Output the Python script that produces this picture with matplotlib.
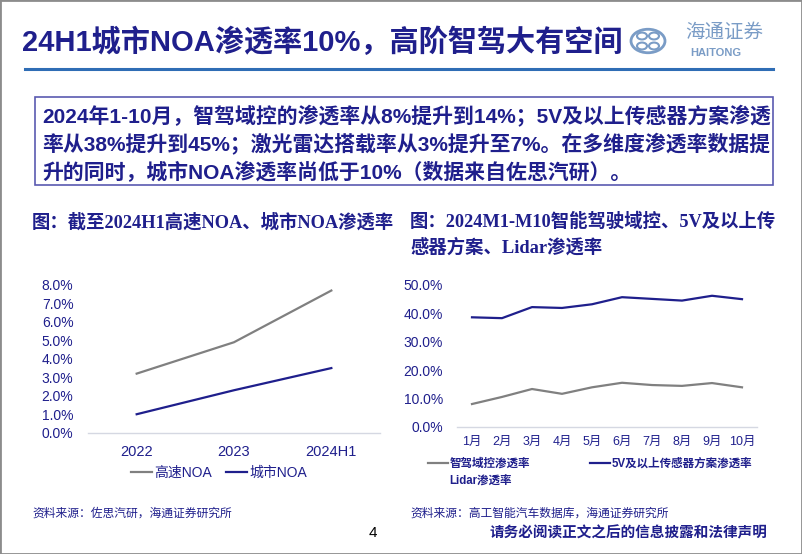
import matplotlib
matplotlib.use("Agg")
import matplotlib.pyplot as plt
from matplotlib.patches import Rectangle, Circle
from matplotlib.lines import Line2D
from matplotlib.ticker import PercentFormatter

# 左图：高速/城市 NOA 渗透率
years = ["2022", "2023", "2024H1"]
highway_noa = [0.032, 0.049, 0.077]
city_noa = [0.010, 0.023, 0.035]

# 右图：2024年1-10月
months = ["1月", "2月", "3月", "4月", "5月", "6月", "7月", "8月", "9月", "10月"]
domain_ctrl = [0.080, 0.105, 0.133, 0.116, 0.139, 0.155, 0.147, 0.144, 0.154, 0.139]
sensor_5v = [0.386, 0.383, 0.422, 0.419, 0.432, 0.457, 0.451, 0.445, 0.462, 0.450]

NAVY = "#1F1F8C"
GRAY = "#808080"
SANS = ["Liberation Sans", "Noto Sans CJK SC"]
SERIF = ["Liberation Serif", "Noto Sans CJK SC"]

W, H = 802, 554
fig = plt.figure(figsize=(W / 100, H / 100), dpi=100)


def fx(px):
    return px / W


def fy(py):
    return 1 - py / H


# slide frame
fig.patches.append(Rectangle((0, 0), 1, 1, transform=fig.transFigure,
                             fill=False, edgecolor="#8C8C8C", lw=2))

# title + rule
fig.text(fx(22), fy(42), "24H1城市NOA渗透率10%，高阶智驾大有空间", family=SANS,
         fontsize=21, fontweight="bold", color=NAVY, va="center", ha="left")
fig.add_artist(Line2D([fx(25), fx(773)], [fy(69), fy(69)], color="#2F6DB5", lw=2.2))

# logo (rough)
logo_c = "#7A9CC6"
fig.patches.append(Circle((fx(648), fy(41)), 17 / W, transform=fig.transFigure,
                          fill=False, edgecolor=logo_c, lw=2))
for dx, dy in [(-6, -5), (6, -5), (-6, 5), (6, 5)]:
    fig.patches.append(Circle((fx(648 + dx), fy(41 + dy)), 5 / W, transform=fig.transFigure,
                              fill=False, edgecolor=logo_c, lw=1.5))
fig.text(fx(724), fy(33), "海通证券", family=SANS, fontsize=14, color=logo_c,
         ha="center", va="center", style="italic")
fig.text(fx(716), fy(53), "HAITONG", family=SANS, fontsize=8, color=logo_c,
         ha="center", va="center", fontweight="bold")

# summary box
fig.patches.append(Rectangle((fx(35), fy(185)), fx(773) - fx(35), fy(97) - fy(185),
                             transform=fig.transFigure, fill=False,
                             edgecolor="#5A5AB0", lw=1.2))
lines = ["2024年1-10月，智驾域控的渗透率从8%提升到14%；5V及以上传感器方案渗透",
         "率从38%提升到45%；激光雷达搭载率从3%提升至7%。在多维度渗透率数据提",
         "升的同时，城市NOA渗透率尚低于10%（数据来自佐思汽研）。"]
for i, s in enumerate(lines):
    fig.text(fx(42), fy(116 + 28 * i), s, family=SANS, fontsize=15,
             fontweight="bold", color=NAVY, va="center", ha="left")

# chart captions
fig.text(fx(32), fy(222), "图：截至2024H1高速NOA、城市NOA渗透率", family=SERIF,
         fontsize=13.2, fontweight="bold", color=NAVY, va="center", ha="left")
fig.text(fx(410), fy(222), "图：2024M1-M10智能驾驶域控、5V及以上传", family=SERIF,
         fontsize=13.2, fontweight="bold", color=NAVY, va="center", ha="left")
fig.text(fx(410), fy(247), "感器方案、Lidar渗透率", family=SERIF,
         fontsize=13.2, fontweight="bold", color=NAVY, va="center", ha="left")


def style_axes(ax, ylim, tick_pad_y, tick_pad_x, xfs):
    for side in ["top", "right", "left"]:
        ax.spines[side].set_visible(False)
    ax.spines["bottom"].set_color("#D5D8E2")
    ax.spines["bottom"].set_linewidth(1)
    ax.set_ylim(*ylim)
    ax.tick_params(axis="both", length=0, colors=NAVY)
    ax.tick_params(axis="y", pad=tick_pad_y, labelsize=10)
    ax.tick_params(axis="x", pad=tick_pad_x, labelsize=xfs)
    for lab in ax.get_yticklabels() + ax.get_xticklabels():
        lab.set_family(SANS)
    ax.set_facecolor("none")


# left chart
ax1 = fig.add_axes([fx(88), fy(432.7), fx(380) - fx(88), fy(285) - fy(432.7)])
ax1.plot(years, highway_noa, color=GRAY, lw=1.6, label="高速NOA")
ax1.plot(years, city_noa, color=NAVY, lw=1.6, label="城市NOA")
ax1.set_xlim(-0.5, 2.5)
ax1.set_yticks([i / 100 for i in range(0, 9)])
ax1.yaxis.set_major_formatter(PercentFormatter(1.0, decimals=1))
style_axes(ax1, (0, 0.08), 10.5, 9, 10.5)
leg1 = ax1.legend(loc="center left", bbox_to_anchor=(fx(124), fy(473)),
                  bbox_transform=fig.transFigure, ncol=2, frameon=False,
                  borderpad=0, handlelength=1.5, handletextpad=0.2,
                  columnspacing=1.0, prop={"family": SANS, "size": 10})
for t in leg1.get_texts():
    t.set_color(NAVY)

# right chart
ax2 = fig.add_axes([fx(457), fy(426.7), fx(757) - fx(457), fy(285) - fy(426.7)])
ax2.plot(months, domain_ctrl, color=GRAY, lw=1.6, label="智驾域控渗透率")
ax2.plot(months, sensor_5v, color=NAVY, lw=1.6, label="5V及以上传感器方案渗透率")
ax2.set_xlim(-0.5, 9.5)
ax2.set_yticks([i / 10 for i in range(0, 6)])
ax2.yaxis.set_major_formatter(PercentFormatter(1.0, decimals=1))
style_axes(ax2, (0, 0.5), 10, 7, 9)
h, l = ax2.get_legend_handles_labels()
lidar = Line2D([], [], color="none")
leg2 = ax2.legend([h[0], lidar, h[1]], [l[0], "Lidar渗透率", l[1]],
                  loc="upper left", bbox_to_anchor=(fx(422), fy(452)),
                  bbox_transform=fig.transFigure, ncol=2, frameon=False,
                  borderpad=0, handlelength=1.75, handletextpad=0.15,
                  columnspacing=5.2, labelspacing=0.5,
                  prop={"family": SANS, "size": 8.3, "weight": "bold"})
for t in leg2.get_texts():
    t.set_color(NAVY)

# sources and footer
fig.text(fx(32), fy(514), "资料来源：佐思汽研，海通证券研究所", family=SANS,
         fontsize=8.5, color=NAVY, va="center", ha="left")
fig.text(fx(410), fy(514), "资料来源：高工智能汽车数据库，海通证券研究所", family=SANS,
         fontsize=8.5, color=NAVY, va="center", ha="left")
fig.text(fx(373), fy(533), "4", family=SANS, fontsize=11, color="black",
         va="center", ha="center")
fig.text(fx(767), fy(533), "请务必阅读正文之后的信息披露和法律声明", family=SANS,
         fontsize=10.5, fontweight="bold", color=NAVY, va="center", ha="right")

fig.savefig("out.png", dpi=100)
